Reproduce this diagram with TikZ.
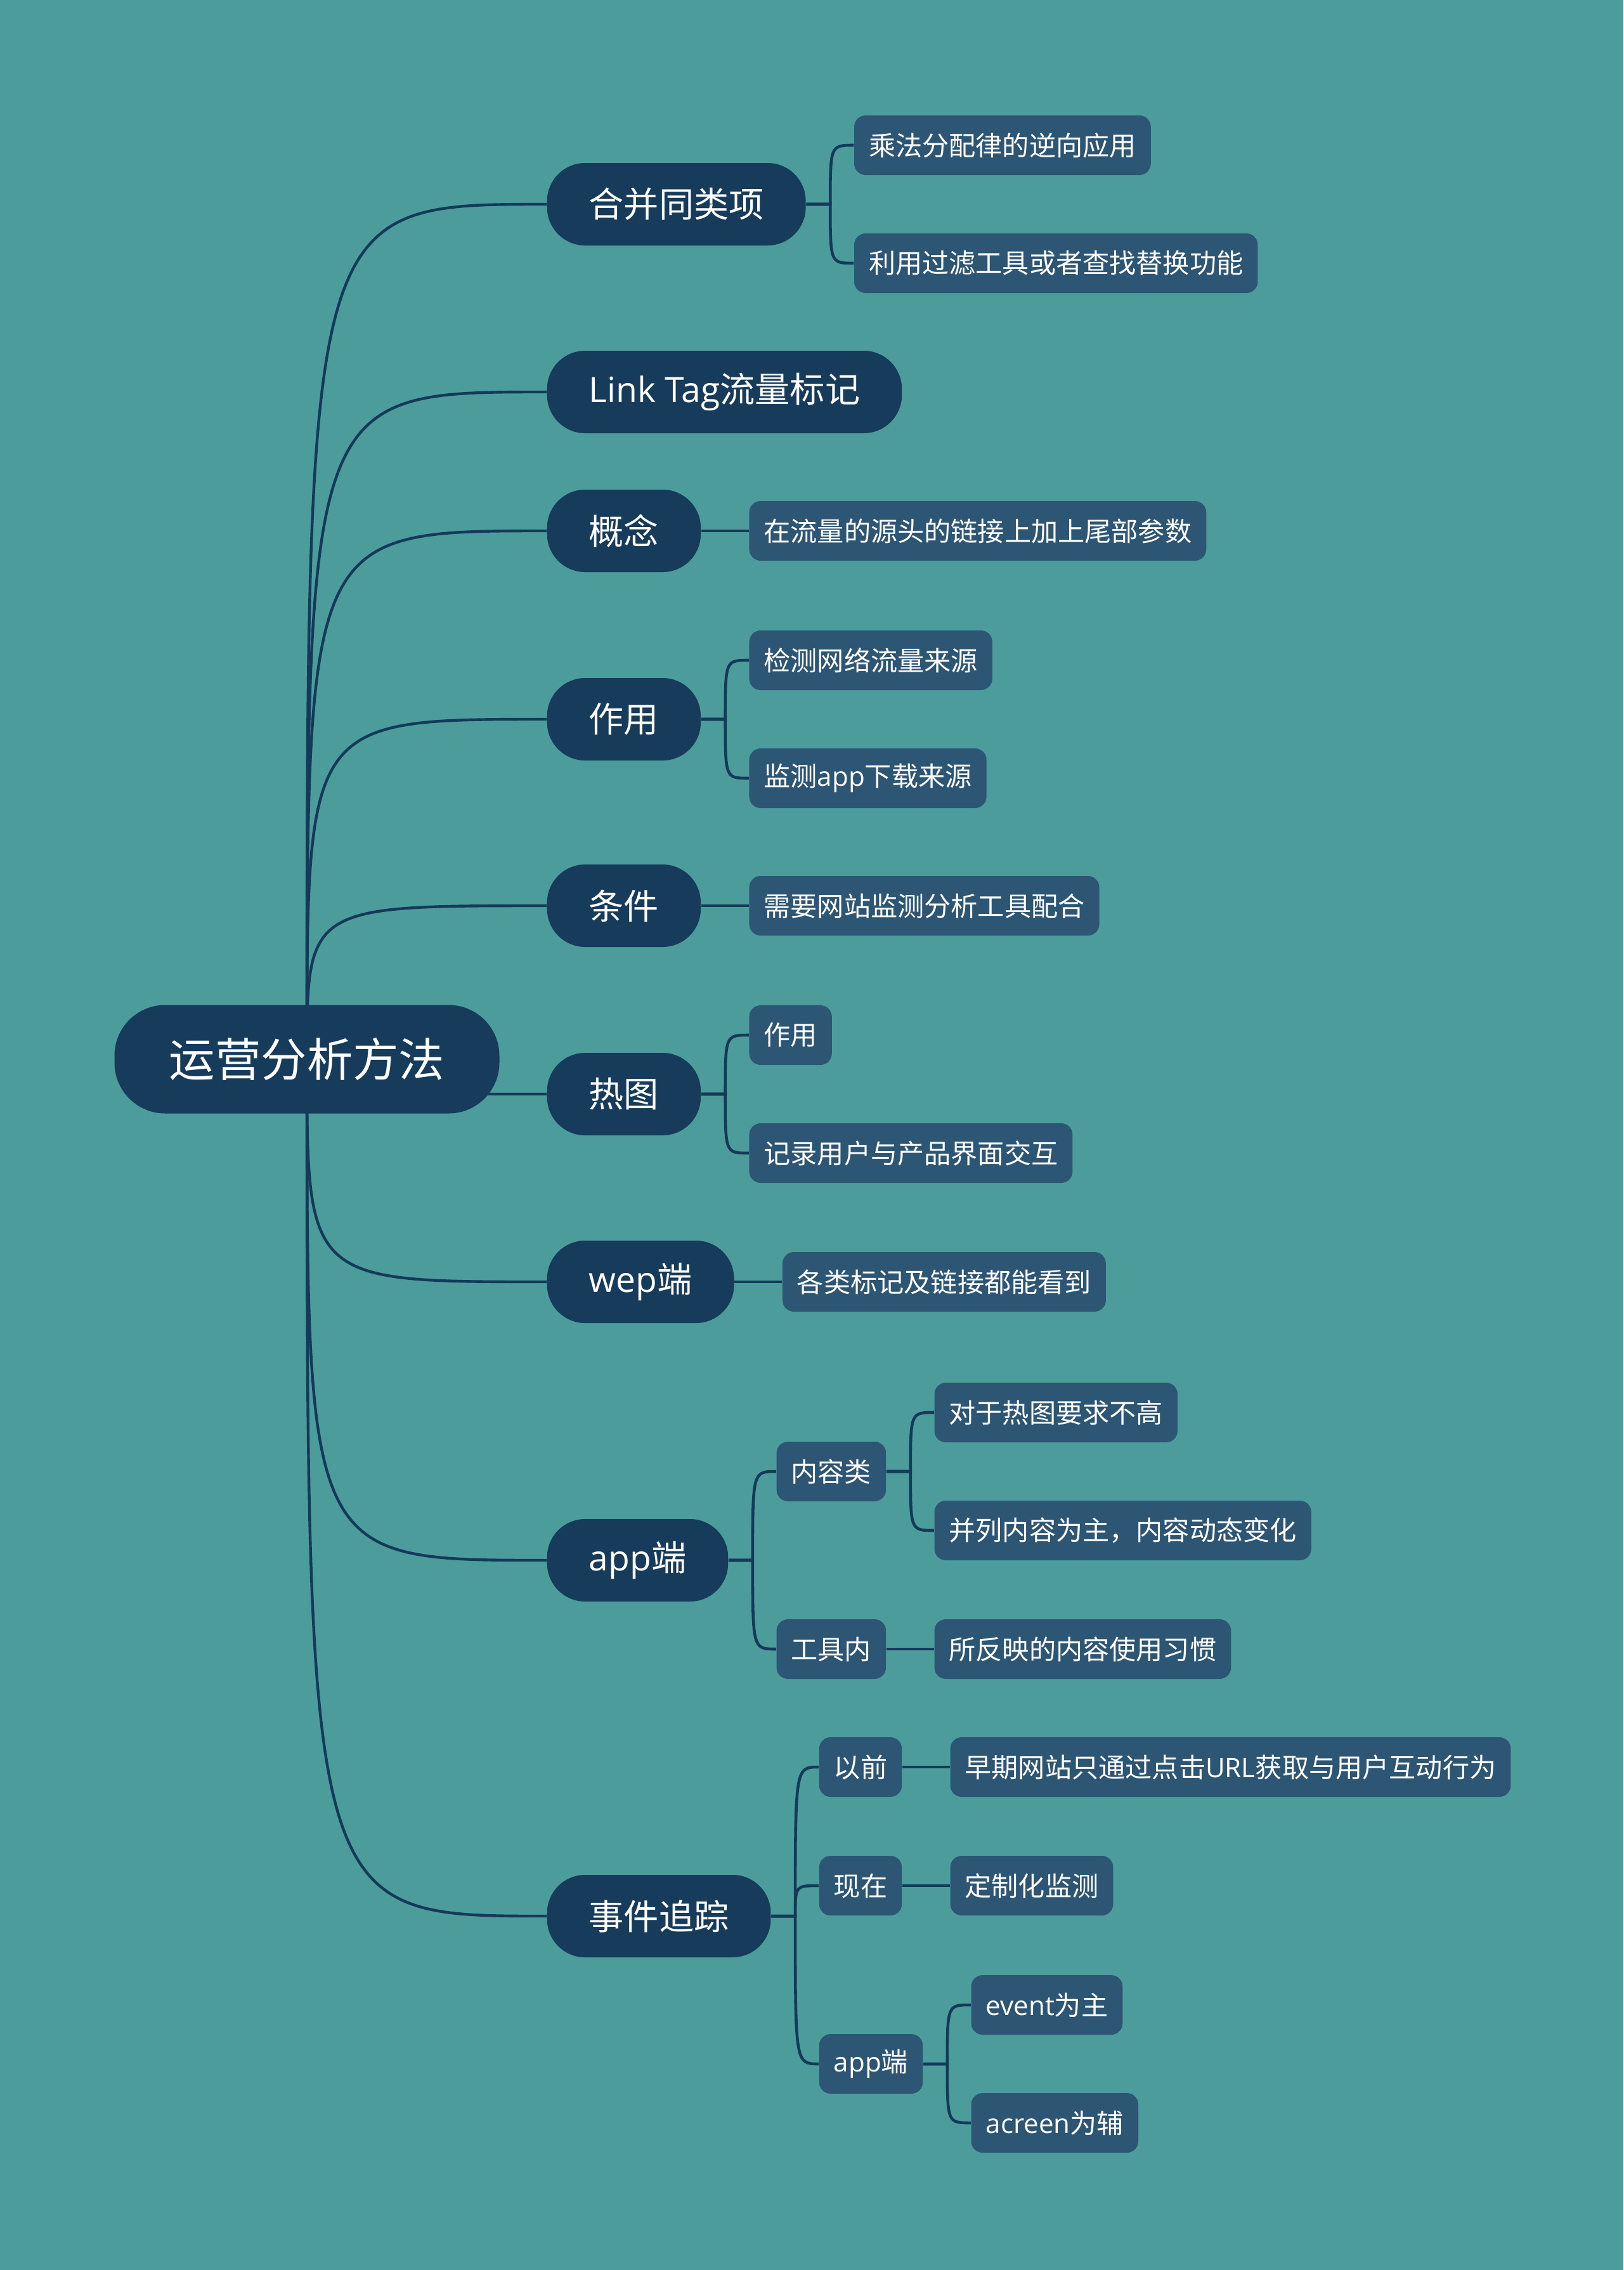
\documentclass[tikz,border=0pt]{standalone}
\usepackage{fontspec}
\setmainfont{Noto Sans CJK SC}
\newfontfamily\lat{Open Sans}
\usetikzlibrary{positioning}
\definecolor{bgteal}{HTML}{4C9C9C}
\definecolor{topic}{HTML}{173B5A}
\definecolor{leafblue}{HTML}{2D5674}
\definecolor{linkc}{HTML}{153A59}
\pgfdeclarelayer{back}
\pgfdeclarelayer{mid}
\pgfsetlayers{back,mid,main}
\tikzset{
    root/.style = {
        fill = topic,
        text = white,
        rounded corners = 0.8cm,
        minimum width = 6.07cm,
        minimum height = 1.71cm,
        font = \fontsize{20.6pt}{24pt}\selectfont,
        },
    topicnode/.style = {
        fill = topic,
        text = white,
        rounded corners = 0.6cm,
        inner xsep = 0.66cm,
        minimum height = 1.30cm,
        font = \fontsize{15.7pt}{18pt}\selectfont,
        },
    leaf/.style = {
        fill = leafblue,
        text = white,
        rounded corners = 0.18cm,
        inner xsep = 0.23cm,
        minimum height = 0.94cm,
        font = \fontsize{12pt}{14pt}\selectfont,
        },
    fan/.style = {
        line width = 1.25pt,
        to path = {.. controls (\tikztostart |- \tikztotarget) .. (\tikztotarget)},
        },
    branch/.style = {
        to path = {-- ++(0.38,0) coordinate (tmp) .. controls (tmp |- \tikztotarget) and (tmp |- \tikztotarget) .. (\tikztotarget)},
        },
}

\begin{document}
\begin{tikzpicture}[node distance=0.75cm, every edge/.style={draw=linkc, line width=1.3pt}]
            \begin{pgfonlayer}{back}
                \fill[bgteal] (0,0) rectangle (25.6,-35.79);
            \end{pgfonlayer}
            \useasboundingbox (0,0) rectangle (25.6,-35.79);

            \node[root] (root) at (4.84,-16.70) {运营分析方法};

            \node[topicnode, anchor=west] (hb) at (8.62,-3.22) {合并同类项};
            \node[topicnode, anchor=west] (lt) at (8.62,-6.18) {{\lat Link Tag}流量标记};
            \node[topicnode, anchor=west] (gn) at (8.62,-8.37) {概念};
            \node[topicnode, anchor=west] (zy) at (8.62,-11.34) {作用};
            \node[topicnode, anchor=west] (tj) at (8.62,-14.28) {条件};
            \node[topicnode, anchor=west] (rt) at (8.62,-17.25) {热图};
            \node[topicnode, anchor=west] (wep) at (8.62,-20.21) {{\lat wep}端};
            \node[topicnode, anchor=west] (app) at (8.62,-24.60) {{\lat app}端};
            \node[topicnode, anchor=west] (sj) at (8.62,-30.21) {事件追踪};

            \node[leaf, right=of hb, yshift=0.93cm] (hb1) {乘法分配律的逆向应用};
            \node[leaf, right=of hb, yshift=-0.93cm] (hb2) {利用过滤工具或者查找替换功能};
            \node[leaf, right=of gn] (gn1) {在流量的源头的链接上加上尾部参数};
            \node[leaf, right=of zy, yshift=0.93cm] (zy1) {检测网络流量来源};
            \node[leaf, right=of zy, yshift=-0.93cm] (zy2) {监测{\lat app}下载来源};
            \node[leaf, right=of tj] (tj1) {需要网站监测分析工具配合};
            \node[leaf, right=of rt, yshift=0.93cm] (rt1) {作用};
            \node[leaf, right=of rt, yshift=-0.93cm] (rt2) {记录用户与产品界面交互};
            \node[leaf, right=of wep] (wep1) {各类标记及链接都能看到};

            \node[leaf, right=of app, yshift=1.40cm] (nr) {内容类};
            \node[leaf, right=of app, yshift=-1.40cm] (gj) {工具内};
            \node[leaf, right=of nr, yshift=0.93cm] (nr1) {对于热图要求不高};
            \node[leaf, right=of nr, yshift=-0.93cm] (nr2) {并列内容为主，内容动态变化};
            \node[leaf, right=of gj] (gj1) {所反映的内容使用习惯};

            \node[leaf, right=of sj, yshift=2.35cm] (yq) {以前};
            \node[leaf, right=of sj, yshift=0.48cm] (xz) {现在};
            \node[leaf, right=of sj, yshift=-2.33cm] (sa) {{\lat app}端};
            \node[leaf, right=of yq] (yq1) {早期网站只通过点击{\lat URL}获取与用户互动行为};
            \node[leaf, right=of xz] (xz1) {定制化监测};
            \node[leaf, right=of sa, yshift=0.93cm] (sa1) {{\lat event}为主};
            \node[leaf, right=of sa, yshift=-0.93cm] (sa2) {{\lat acreen}为辅};

            \begin{pgfonlayer}{mid}
                \path (root.center) edge[fan] (hb.west);
                \path (root.center) edge[fan] (lt.west);
                \path (root.center) edge[fan] (gn.west);
                \path (root.center) edge[fan] (zy.west);
                \path (root.center) edge[fan] (tj.west);
                \path (root.center) edge[fan] (rt.west);
                \path (root.center) edge[fan] (wep.west);
                \path (root.center) edge[fan] (app.west);
                \path (root.center) edge[fan] (sj.west);
            \end{pgfonlayer}

            \path (hb.east) edge[branch] (hb1.west);
            \path (hb.east) edge[branch] (hb2.west);
            \path (gn) edge (gn1);
            \path (zy.east) edge[branch] (zy1.west);
            \path (zy.east) edge[branch] (zy2.west);
            \path (tj) edge (tj1);
            \path (rt.east) edge[branch] (rt1.west);
            \path (rt.east) edge[branch] (rt2.west);
            \path (wep) edge (wep1);
            \path (app.east) edge[branch] (nr.west);
            \path (app.east) edge[branch] (gj.west);
            \path (nr.east) edge[branch] (nr1.west);
            \path (nr.east) edge[branch] (nr2.west);
            \path (gj) edge (gj1);
            \path (sj.east) edge[branch] (yq.west);
            \path (sj.east) edge[branch] (xz.west);
            \path (sj.east) edge[branch] (sa.west);
            \path (yq) edge (yq1);
            \path (xz) edge (xz1);
            \path (sa.east) edge[branch] (sa1.west);
            \path (sa.east) edge[branch] (sa2.west);
        \end{tikzpicture}
\end{document}
